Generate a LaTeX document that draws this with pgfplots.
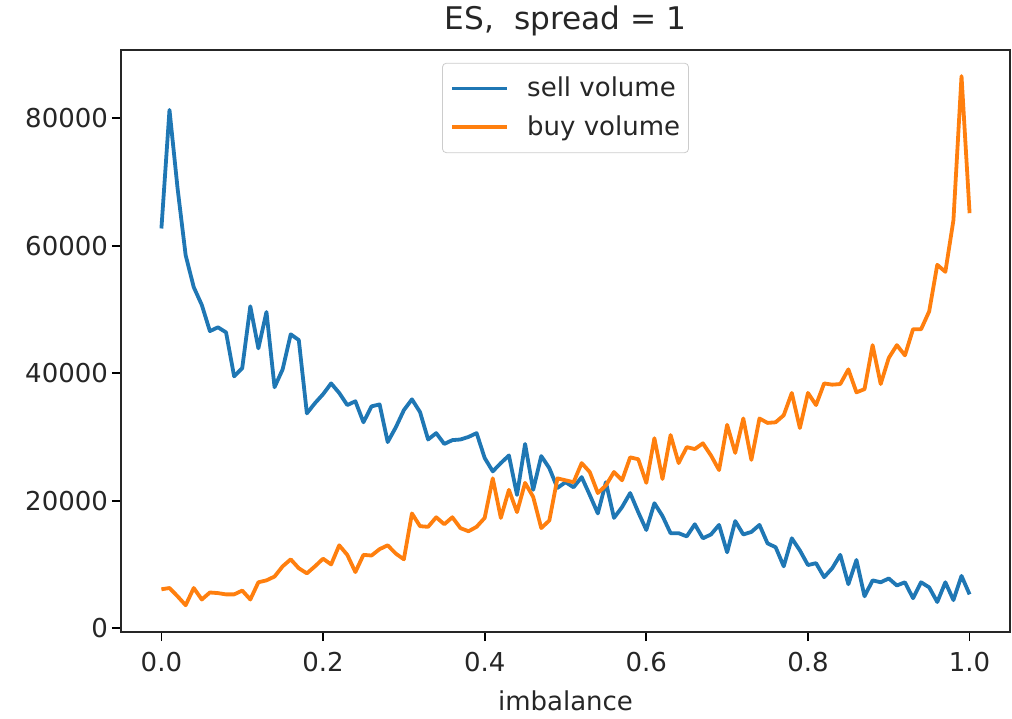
\documentclass[border=0pt]{standalone}
\usepackage{fontspec}
\setmainfont{DejaVu Sans}
\usepackage{pgfplots}
\usepackage{pgfplotstable}
\pgfplotsset{compat=1.18}

\definecolor{mplblue}{HTML}{1F77B4}
\definecolor{mplorange}{HTML}{FF7F0E}

% imbalance, sell volume, buy volume
\pgfplotstableread{
x sell buy
0.00 62700 6100
0.01 81300 6300
0.02 69000 5000
0.03 58500 3600
0.04 53500 6300
0.05 50700 4500
0.06 46600 5600
0.07 47200 5500
0.08 46400 5300
0.09 39500 5300
0.10 40800 5900
0.11 50500 4500
0.12 43900 7200
0.13 49600 7500
0.14 37800 8100
0.15 40600 9700
0.16 46100 10800
0.17 45200 9400
0.18 33700 8600
0.19 35300 9700
0.20 36700 10900
0.21 38400 10000
0.22 36900 13000
0.23 35000 11500
0.24 35600 8800
0.25 32300 11500
0.26 34800 11400
0.27 35100 12400
0.28 29200 13000
0.29 31500 11700
0.30 34200 10800
0.31 35900 18000
0.32 33900 16000
0.33 29600 15900
0.34 30600 17400
0.35 28900 16300
0.36 29500 17400
0.37 29600 15700
0.38 30000 15200
0.39 30600 15900
0.40 26700 17300
0.41 24600 23500
0.42 25900 17300
0.43 27100 21700
0.44 20900 18200
0.45 28900 22800
0.46 21700 20600
0.47 27000 15700
0.48 25100 16900
0.49 22000 23500
0.50 22900 23200
0.51 22100 22900
0.52 23700 25900
0.53 20900 24500
0.54 18000 21200
0.55 22900 22400
0.56 17300 24500
0.57 19000 23200
0.58 21200 26800
0.59 18200 26500
0.60 15400 22800
0.61 19600 29800
0.62 17600 23400
0.63 14900 30300
0.64 14900 25900
0.65 14400 28400
0.66 16300 28100
0.67 14100 29000
0.68 14700 27100
0.69 16200 24800
0.70 11900 31900
0.71 16800 27500
0.72 14700 32900
0.73 15100 26400
0.74 16200 32900
0.75 13300 32200
0.76 12700 32300
0.77 9700 33400
0.78 14100 36900
0.79 12200 31400
0.80 9900 36900
0.81 10200 35000
0.82 8000 38400
0.83 9400 38200
0.84 11500 38300
0.85 6900 40600
0.86 10700 37000
0.87 5000 37500
0.88 7500 44400
0.89 7200 38300
0.90 7800 42400
0.91 6700 44400
0.92 7200 42800
0.93 4700 46900
0.94 7200 46900
0.95 6400 49700
0.96 4100 57000
0.97 7200 55900
0.98 4400 64000
0.99 8200 86600
1.00 5300 65100
}\volumes

\begin{document}
\begin{tikzpicture}
\begin{axis}[
    scale only axis,
    width=444.5pt, height=291pt,
    xmin=-0.05, xmax=1.05,
    ymin=-600, ymax=90700,
    xtick={0,0.2,...,1.0},
    ytick={0,20000,40000,60000,80000},
    scaled ticks=false,
    ticklabel style={font=\fontsize{13}{15}\selectfont, text=black!85},
    x tick label style={yshift=-2pt, /pgf/number format/.cd, fixed, fixed zerofill, precision=1},
    y tick label style={xshift=1.5pt, /pgf/number format/.cd, fixed, 1000 sep={}},
    /pgf/number format/assume math mode=true,
    tick align=outside,
    major tick length=4.5pt,
    tick style={black, line width=0.9pt},
    xtick pos=bottom, ytick pos=left,
    axis line style={line width=1pt, black!85},
    title={ES,\ \ spread = 1},
    title style={at={(0.5,1)}, anchor=base, yshift=4.5pt, font=\fontsize{15.6}{18}\selectfont, text=black!85},
    xlabel={imbalance},
    xlabel style={at={(axis description cs:0.5,0)}, anchor=base, yshift=-39pt, font=\fontsize{13}{15}\selectfont, text=black!85},
    legend style={at={(0.5,0.978)}, anchor=north, draw=black!20, rounded corners=2pt,
        font=\fontsize{13}{15}\selectfont, text=black!85, inner xsep=2.2pt, inner ysep=5pt,
        row sep=4pt, cells={anchor=west}},
    legend image code/.code={\path (-1.8pt,0pt) (34.5pt,0pt); \draw[#1] (0pt,0pt) -- (27.5pt,0pt);},
    every axis plot/.append style={line width=1.9pt, line join=round},
]
\addplot[mplblue] table[x=x, y=sell] {\volumes};
\addlegendentry{sell volume}
\addplot[mplorange] table[x=x, y=buy] {\volumes};
\addlegendentry{buy volume}
\end{axis}
\pgfresetboundingbox
\useasboundingbox (-60.5pt,-43pt) rectangle (445.5pt,316pt);
\end{tikzpicture}
\end{document}
